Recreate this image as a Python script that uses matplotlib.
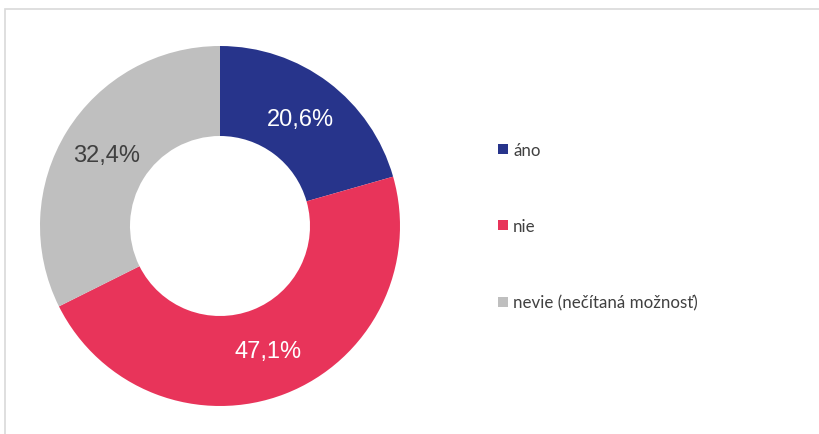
import numpy as np
import matplotlib.pyplot as plt
from matplotlib.patches import Rectangle
from matplotlib.lines import Line2D

# data
categories = ["áno", "nie", "nevie (nečítaná možnosť)"]
shares = [20.6, 47.1, 32.4]
pct_labels = ["20,6%", "47,1%", "32,4%"]

colors = ["#27348B", "#E8345A", "#BFBFBF"]
label_colors = ["white", "white", "#404040"]

W, H = 820, 435
fig = plt.figure(figsize=(W / 100, H / 100), dpi=100)

# light frame around the chart area (cut at right/bottom like the original)
fig.patches.append(Rectangle((5.5 / W, -0.1), 2.0, (H - 9.5) / H + 0.1,
                             transform=fig.transFigure, fill=False,
                             ec="#D9D9D9", lw=1.2))

# donut: center (220, 227) px, outer radius 180 px
cx, cy, R = 220, 227, 180
ax = fig.add_axes([(cx - R) / W, (H - cy - R) / H, 2 * R / W, 2 * R / H])
wedges, _ = ax.pie(shares, colors=colors, startangle=90, counterclock=False,
                   radius=1.0, wedgeprops=dict(width=0.5, linewidth=0))
ax.set_xlim(-1, 1)
ax.set_ylim(-1, 1)
ax.set_aspect("equal")
ax.axis("off")

# percentage labels in the middle of the ring
start = 90.0
for val, lab, col in zip(shares, pct_labels, label_colors):
    mid = np.deg2rad(start - val / 100 * 360 / 2)
    start -= val / 100 * 360
    ax.text(0.745 * np.cos(mid), 0.745 * np.sin(mid), lab, color=col,
            fontsize=17, family="Liberation Sans", ha="center", va="center")

handles = [Line2D([], [], marker="s", linestyle="none", markersize=6.5,
                  markerfacecolor=c, markeredgewidth=0) for c in colors]
leg = fig.legend(handles, categories, loc="upper left",
                 bbox_to_anchor=(497 / W, 1 - 143 / H), frameon=False,
                 prop=dict(family="Lato", size=12.2), labelcolor="#404040",
                 handlelength=0.65, handletextpad=0.3, labelspacing=3.55,
                 borderpad=0, borderaxespad=0)

fig.savefig("out.png", dpi=100, facecolor="white")
